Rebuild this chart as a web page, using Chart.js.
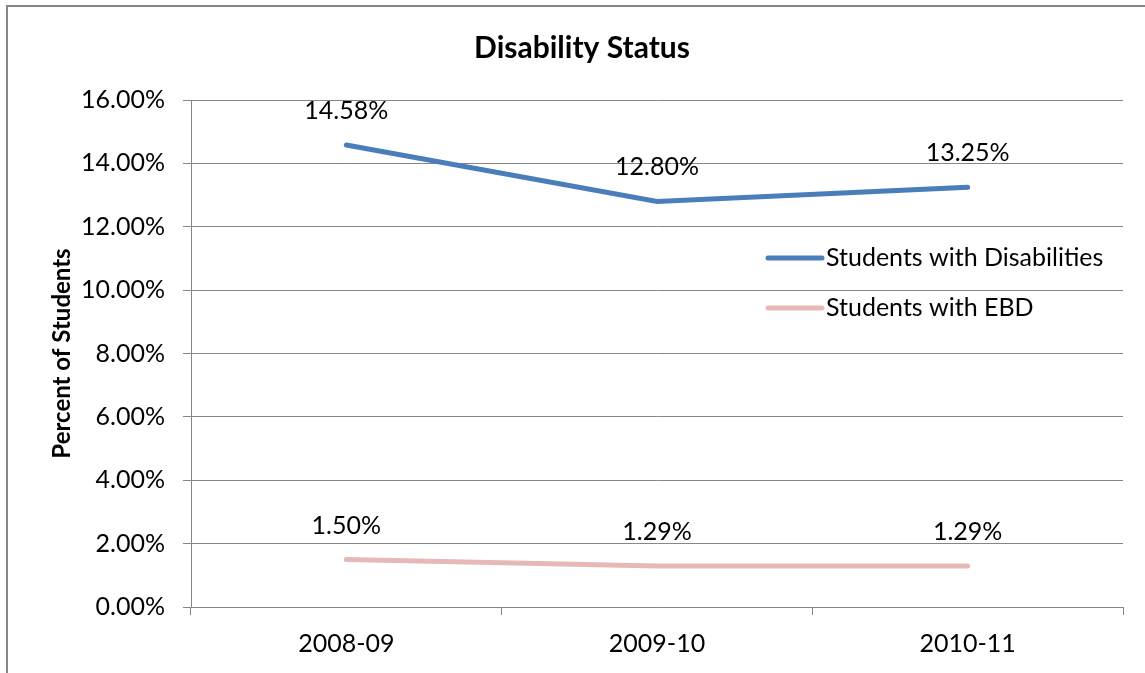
<!DOCTYPE html>
<html>
<head>
<meta charset="utf-8">
<title>Disability Status</title>
<script src="https://cdn.jsdelivr.net/npm/chart.js@4.4.1/dist/chart.umd.min.js"></script>
<style>
  html, body { margin: 0; padding: 0; background: #fff; overflow: hidden; }
  #wrap { position: absolute; left: 0; top: 0; width: 1160px; height: 673px; }
</style>
</head>
<body>
<div id="wrap"><canvas id="chart"></canvas></div>
<script>
// school years and percent of students in each group
const years = ["2008-09", "2009-10", "2010-11"];
const disabilities = [14.58, 12.80, 13.25];
const ebd = [1.50, 1.29, 1.29];
const seriesNames = ["Students with Disabilities", "Students with EBD"];
const seriesColors = ["#4A7EBB", "#E6B9B8"];

const FONT = "Lato, 'Open Sans', sans-serif";
const GRID = "#868686";
const TEXT_SIZE = 25;

// outer frame of the chart
const framePlugin = {
    id: "frame",
    beforeDraw(chart) {
        const ctx = chart.ctx;
        ctx.save();
        ctx.strokeStyle = GRID;
        ctx.lineWidth = 2;
        ctx.strokeRect(7, 6, chart.width + 20, chart.height + 20);
        ctx.restore();
    }
};

// value labels above every point
const labelPlugin = {
    id: "valueLabels",
    afterDatasetsDraw(chart) {
        const ctx = chart.ctx;
        ctx.save();
        ctx.font = TEXT_SIZE + "px " + FONT;
        ctx.fillStyle = "#000";
        ctx.textAlign = "center";
        ctx.textBaseline = "middle";
        chart.data.datasets.forEach((ds, i) => {
            chart.getDatasetMeta(i).data.forEach((pt, j) => {
                ctx.fillText(ds.data[j].toFixed(2) + "%", pt.x, pt.y - 34);
            });
        });
        ctx.restore();
    }
};

// legend sits inside the plot, on the right
const legendPlugin = {
    id: "innerLegend",
    afterDraw(chart) {
        const ctx = chart.ctx;
        const area = chart.chartArea;
        const x0 = area.right - 355;
        ctx.save();
        ctx.font = TEXT_SIZE + "px " + FONT;
        ctx.textBaseline = "middle";
        ctx.textAlign = "left";
        chart.data.datasets.forEach((ds, i) => {
            const y = area.top + 158 + i * 50;
            ctx.strokeStyle = ds.borderColor;
            ctx.lineWidth = 5;
            ctx.lineCap = "round";
            ctx.beginPath();
            ctx.moveTo(x0, y);
            ctx.lineTo(x0 + 54, y);
            ctx.stroke();
            ctx.fillStyle = "#000";
            ctx.fillText(ds.label, x0 + 58, y);
        });
        ctx.restore();
    }
};

new Chart(document.getElementById("chart"), {
    type: "line",
    data: {
        labels: years,
        datasets: [
            {
                label: seriesNames[0],
                data: disabilities,
                borderColor: seriesColors[0],
                borderWidth: 5,
                borderCapStyle: "round",
                pointRadius: 0,
                tension: 0
            },
            {
                label: seriesNames[1],
                data: ebd,
                borderColor: seriesColors[1],
                borderWidth: 5,
                borderCapStyle: "round",
                pointRadius: 0,
                tension: 0
            }
        ]
    },
    options: {
        responsive: true,
        maintainAspectRatio: false,
        animation: false,
        layout: { padding: { left: 41, right: 37, top: 0, bottom: 0 } },
        plugins: {
            legend: { display: false },
            tooltip: { enabled: false },
            title: {
                display: true,
                text: "Disability Status",
                color: "#000",
                font: { family: FONT, size: 30, weight: "bold" },
                padding: { top: 30, bottom: 34 }
            }
        },
        scales: {
            x: {
                offset: true,
                afterFit: s => { s.height = 66; },
                grid: { offset: true, drawOnChartArea: false, color: GRID, tickLength: 8 },
                border: { display: true, color: GRID },
                ticks: { color: "#000", font: { family: FONT, size: TEXT_SIZE }, padding: 14 }
            },
            y: {
                min: 0,
                max: 16,
                afterFit: s => { s.width = 150; },
                grid: { color: GRID, tickLength: 8 },
                border: { display: true, color: GRID },
                ticks: {
                    stepSize: 2,
                    color: "#000",
                    font: { family: FONT, size: TEXT_SIZE },
                    padding: 18,
                    callback: v => v.toFixed(2) + "%"
                },
                title: {
                    display: true,
                    text: "Percent of Students",
                    color: "#000",
                    font: { family: FONT, size: 24, weight: "bold" },
                    padding: { top: 7 }
                }
            }
        }
    },
    plugins: [framePlugin, labelPlugin, legendPlugin]
});
</script>
</body>
</html>
